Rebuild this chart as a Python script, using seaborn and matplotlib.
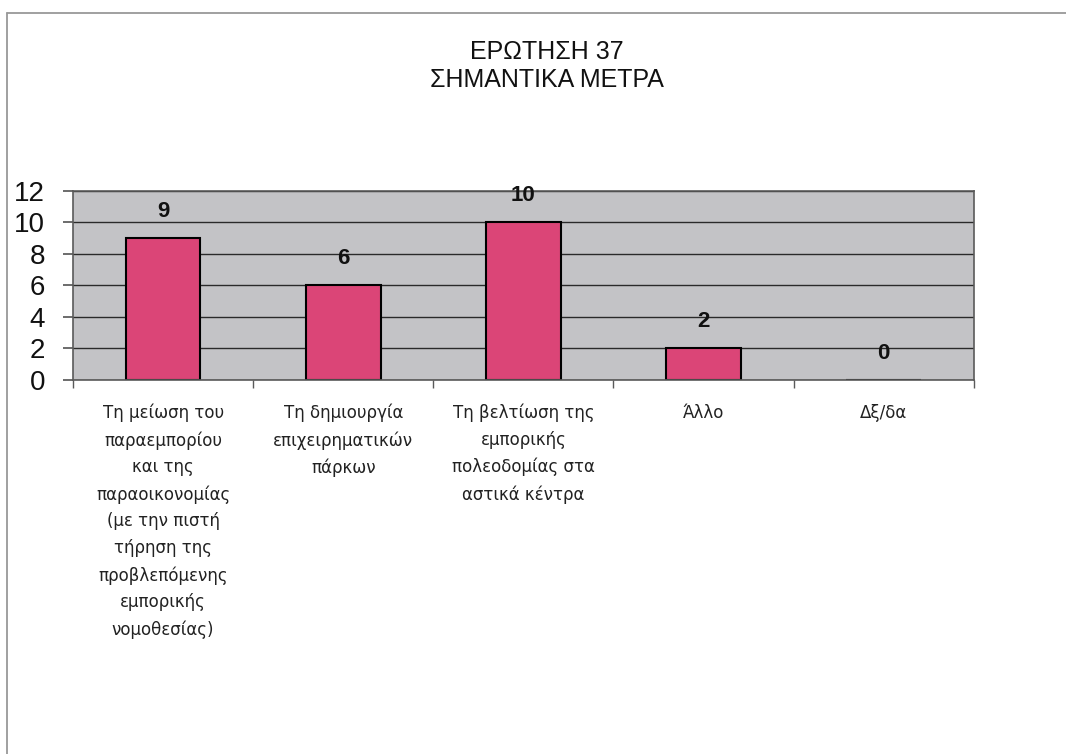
import matplotlib.pyplot as plt
import numpy as np
import pandas as pd
import seaborn as sns
from matplotlib.lines import Line2D

categories = [
    "Τη μείωση του\nπαραεμπορίου\nκαι της\nπαραοικονομίας\n(με την πιστή\nτήρηση της\nπροβλεπόμενης\nεμπορικής\nνομοθεσίας)",
    "Τη δημιουργία\nεπιχειρηματικών\nπάρκων",
    "Τη βελτίωση της\nεμπορικής\nπολεοδομίας στα\nαστικά κέντρα",
    "Άλλο",
    "Δξ/δα",
]
values = [9, 6, 10, 2, 0]
yTicks = [0, 2, 4, 6, 8, 10, 12]

sns.set_theme(style='white')
plt.rcParams['font.family'] = ['Liberation Sans', 'DejaVu Sans']

df = pd.DataFrame({'cat': categories, 'val': values})

fig = plt.figure(figsize=(10.66, 7.54), dpi=100)
ax = fig.add_axes([0.0685, 0.496, 0.845, 0.251])
sns.barplot(data=df, x='cat', y='val', ax=ax, color='#DB4577', saturation=1,
            width=0.415, edgecolor='black', linewidth=1.5)
ax.set_facecolor('#C3C3C6')
ax.set_xlim(-0.5, len(categories) - 0.5)
ax.set_ylim(0, 12)
ax.set_yticks(yTicks)
ax.set_yticklabels([str(t) for t in yTicks], fontsize=20, color='#111111')
ax.yaxis.grid(True, color='#2a2a2a', linewidth=1)
ax.set_axisbelow(True)
for s in ['top', 'right', 'left', 'bottom']:
    ax.spines[s].set_color('#5a5a5a')
    ax.spines[s].set_linewidth(1.2)
ax.set_xlabel('')
ax.set_ylabel('')

# tick marks between categories
ax.set_xticks(np.arange(len(categories) + 1) - 0.5, minor=True)
ax.tick_params(axis='x', which='minor', direction='out', length=6, color='#5a5a5a', bottom=True)
ax.tick_params(axis='x', which='major', length=0, pad=17)
ax.tick_params(axis='y', direction='out', length=7, color='#5a5a5a', left=True, pad=13)
ax.set_xticks(np.arange(len(categories)))
ax.set_xticklabels(categories, fontsize=12, linespacing=1.62, va='top', ha='center',
                   family=['DejaVu Sans'], color='#222222')

for i, v in enumerate(values):
    ax.text(i, v + 1.7, str(v), ha='center', va='center', fontsize=16,
            fontweight='bold', color='#111111')

fig.text(0.5127, 0.912, "ΕΡΩΤΗΣΗ 37\nΣΗΜΑΝΤΙΚΑ ΜΕΤΡΑ", ha='center', va='center',
         fontsize=18, linespacing=1.2, color='#111111')

# outer frame lines
fig.add_artist(Line2D([0.0066, 1], [0.983, 0.983], transform=fig.transFigure, color='#999999', linewidth=1.3))
fig.add_artist(Line2D([0.0066, 0.0066], [0, 0.983], transform=fig.transFigure, color='#999999', linewidth=1.3))

plt.savefig('out.png', dpi=100)
plt.close()
